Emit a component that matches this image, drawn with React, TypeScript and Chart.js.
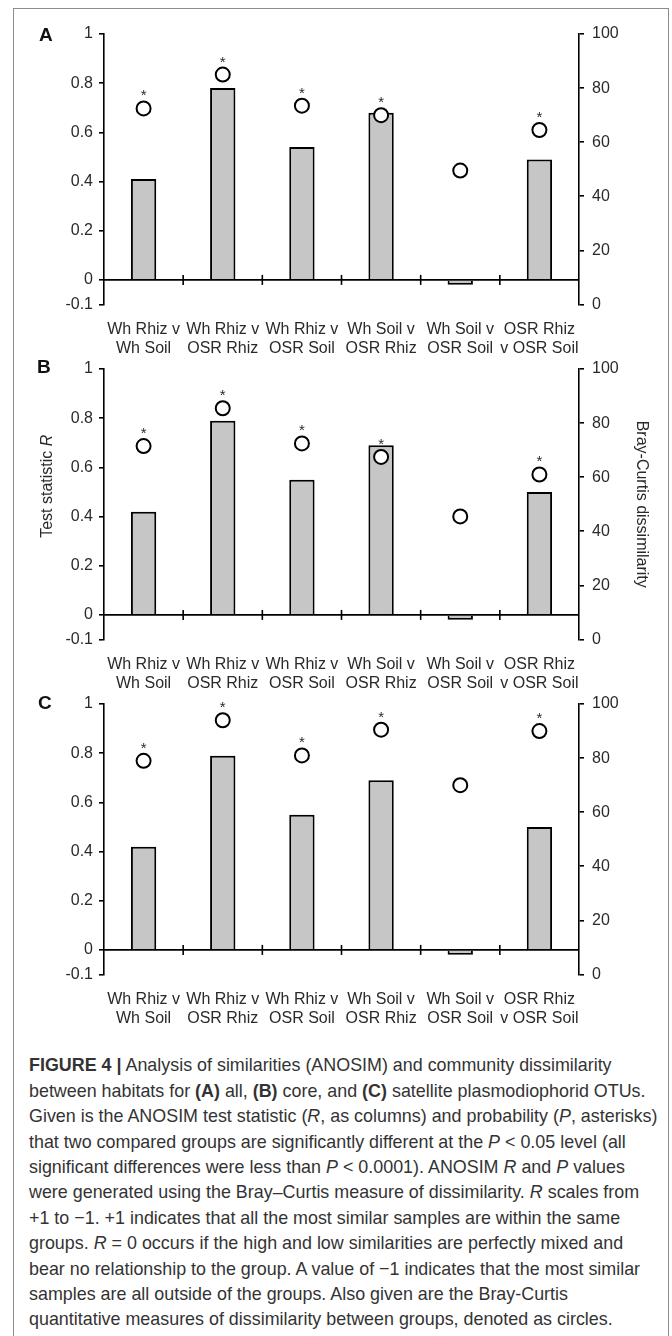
import React, { useEffect, useLayoutEffect, useRef, useState } from 'react';
import { Chart, registerables } from 'chart.js';

Chart.register(...registerables);

// ---------- data ----------
const CATEGORIES: string[][] = [
  ['Wh Rhiz v', 'Wh Soil'],
  ['Wh Rhiz v', 'OSR Rhiz'],
  ['Wh Rhiz v', 'OSR Soil'],
  ['Wh Soil v', 'OSR Rhiz'],
  ['Wh Soil v', 'OSR Soil'],
  ['OSR Rhiz', 'v OSR Soil'],
];
const LEFT_TICKS = [-0.1, 0, 0.2, 0.4, 0.6, 0.8, 1];
const RIGHT_TICKS = [0, 20, 40, 60, 80, 100];

const R_ALL = [0.41, 0.78, 0.54, 0.68, -0.02, 0.49];
const BC_ALL = [72.5, 85, 73.5, 70, 49.5, 64.5];
const SIG_ALL = [true, true, true, true, false, true];

const R_CORE = [0.42, 0.79, 0.55, 0.69, -0.02, 0.5];
const BC_CORE = [71.5, 85.5, 72.5, 67.5, 45.5, 61];
const SIG_CORE = [true, true, true, true, false, true];

const R_SAT = [0.42, 0.79, 0.55, 0.69, -0.02, 0.5];
const BC_SAT = [79, 94, 81, 90.5, 70, 90];
const SIG_SAT = [true, true, true, true, false, true];

const LEFT_TITLE = 'Test statistic ';
const LEFT_TITLE_ITALIC = 'R';
const RIGHT_TITLE = 'Bray-Curtis dissimilarity';

const FONT = "'Liberation Sans', Arial, sans-serif";
const TEXT = '#2a2a2a';

// ---------- plugins ----------
const zeroLinePlugin = {
  id: 'zeroLine',
  afterDatasetsDraw(chart: any) {
    const x = chart.scales.x;
    const y = chart.scales.y;
    const ctx = chart.ctx;
    const y0 = y.getPixelForValue(0);
    ctx.save();
    ctx.strokeStyle = '#000';
    ctx.lineWidth = 1.6;
    ctx.beginPath();
    ctx.moveTo(chart.chartArea.left, y0);
    ctx.lineTo(chart.chartArea.right, y0);
    ctx.stroke();
    const n = chart.data.labels.length;
    for (let i = 1; i < n; i++) {
      const bx = (x.getPixelForValue(i - 1) + x.getPixelForValue(i)) / 2;
      ctx.beginPath();
      ctx.moveTo(bx, y0 - 5);
      ctx.lineTo(bx, y0 + 5);
      ctx.stroke();
    }
    ctx.restore();
  },
};

const asteriskPlugin = {
  id: 'asterisks',
  afterDatasetsDraw(chart: any, _args: any, opts: any) {
    const sig: boolean[] = opts.sig || [];
    const meta = chart.getDatasetMeta(1);
    const ctx = chart.ctx;
    ctx.save();
    ctx.font = `15px ${FONT}`;
    ctx.fillStyle = TEXT;
    ctx.textAlign = 'center';
    ctx.textBaseline = 'alphabetic';
    meta.data.forEach((pt: any, i: number) => {
      if (sig[i]) ctx.fillText('*', pt.x, pt.y - 8);
    });
    ctx.restore();
  },
};

const leftTitlePlugin = {
  id: 'leftTitle',
  afterDraw(chart: any, _args: any, opts: any) {
    if (!opts.display) return;
    const ctx = chart.ctx;
    const ca = chart.chartArea;
    ctx.save();
    ctx.translate(ca.left - 56.5, (ca.top + ca.bottom) / 2 - 18);
    ctx.rotate(-Math.PI / 2);
    const f1 = `16px ${FONT}`;
    const f2 = `italic 16px ${FONT}`;
    ctx.font = f1;
    const w1 = ctx.measureText(LEFT_TITLE).width;
    ctx.font = f2;
    const w2 = ctx.measureText(LEFT_TITLE_ITALIC).width;
    const start = -(w1 + w2) / 2;
    ctx.fillStyle = TEXT;
    ctx.textAlign = 'left';
    ctx.textBaseline = 'middle';
    ctx.font = f1;
    ctx.fillText(LEFT_TITLE, start, 0);
    ctx.font = f2;
    ctx.fillText(LEFT_TITLE_ITALIC, start + w1, 0);
    ctx.restore();
  },
};

// ---------- panel ----------
type PanelProps = { r: number[]; bc: number[]; sig: boolean[]; titles: boolean; top: number };

function Panel({ r, bc, sig, titles, top }: PanelProps) {
  const ref = useRef<HTMLCanvasElement | null>(null);
  useEffect(() => {
    if (!ref.current) return;
    const tickFont = { family: FONT, size: 16 };
    const chart = new Chart(ref.current, {
      type: 'bar',
      data: {
        labels: CATEGORIES as any,
        datasets: [
          {
            type: 'bar',
            data: r,
            yAxisID: 'y',
            backgroundColor: '#c6c6c6',
            borderColor: '#000',
            borderWidth: 2,
            barPercentage: 0.32,
            categoryPercentage: 1,
            order: 2,
          } as any,
          {
            type: 'line',
            data: bc,
            yAxisID: 'y2',
            showLine: false,
            pointRadius: 7,
            pointBorderWidth: 2,
            pointBackgroundColor: '#fff',
            pointBorderColor: '#000',
            order: 1,
          } as any,
        ],
      },
      options: {
        responsive: false,
        animation: false,
        devicePixelRatio: 1,
        layout: { padding: { top: 20, left: 0, right: 17.4, bottom: 0 } },
        plugins: {
          legend: { display: false },
          tooltip: { enabled: false },
          asterisks: { sig },
          leftTitle: { display: titles },
        } as any,
        scales: {
          x: {
            type: 'category',
            offset: true,
            grid: { display: false },
            border: { display: false },
            ticks: {
              font: { family: FONT, size: 16, lineHeight: 1.15 },
              color: TEXT,
              padding: 8,
              maxRotation: 0,
              minRotation: 0,
              autoSkip: false,
            },
            afterFit(s: any) {
              s.height = 50.5;
            },
          },
          y: {
            type: 'linear',
            position: 'left',
            min: -0.1,
            max: 1,
            afterBuildTicks(s: any) {
              s.ticks = LEFT_TICKS.map((v) => ({ value: v }));
            },
            ticks: { font: tickFont, color: TEXT, padding: 6, callback: (v: any) => String(v) },
            grid: { display: true, drawOnChartArea: false, drawTicks: true, tickLength: 5, color: '#000', lineWidth: 1.6 },
            border: { display: true, color: '#000', width: 1.6 },
            afterFit(s: any) {
              s.width = 104;
            },
          },
          y2: {
            type: 'linear',
            position: 'right',
            min: 0,
            max: 100,
            afterBuildTicks(s: any) {
              s.ticks = RIGHT_TICKS.map((v) => ({ value: v }));
            },
            ticks: { font: tickFont, color: TEXT, padding: 8, callback: (v: any) => String(v) },
            grid: { display: true, drawOnChartArea: false, drawTicks: true, tickLength: 5, color: '#000', lineWidth: 1.6 },
            border: { display: true, color: '#000', width: 1.6 },
            title: {
              display: titles,
              text: RIGHT_TITLE,
              font: { family: FONT, size: 16 },
              color: TEXT,
              padding: { top: 4, bottom: 4 },
            },
            afterFit(s: any) {
              s.width = 75.6;
            },
          },
        } as any,
      },
      plugins: [zeroLinePlugin, asteriskPlugin, leftTitlePlugin],
    });
    return () => chart.destroy();
  }, [r, bc, sig, titles]);
  return (
    <canvas
      ref={ref}
      width={672}
      height={341}
      style={{ position: 'absolute', left: 0, top, width: 672, height: 341 }}
    />
  );
}

const letterStyle = (left: number, top: number): React.CSSProperties => ({
  position: 'absolute',
  left,
  top,
  fontFamily: FONT,
  fontWeight: 'bold',
  fontSize: 19,
  lineHeight: '20px',
  color: '#111',
});

const CAPTION_FONT = "'Liberation Sans', Arial, sans-serif";
const CAPTION_LINE3_WIDTH = 628;

export default function App() {
  const line3 = useRef<HTMLSpanElement | null>(null);
  const [sx, setSx] = useState(1);
  useLayoutEffect(() => {
    if (line3.current) {
      const w = line3.current.offsetWidth;
      if (w > 0) setSx(CAPTION_LINE3_WIDTH / w);
    }
  }, []);
  const lines: React.ReactNode[] = [
    <>
      <b>FIGURE 4 |</b> Analysis of similarities (ANOSIM) and community dissimilarity
    </>,
    <>
      between habitats for <b>(A)</b> all, <b>(B)</b> core, and <b>(C)</b> satellite plasmodiophorid OTUs.
    </>,
    <span ref={line3}>
      Given is the ANOSIM test statistic (<i>R</i>, as columns) and probability (<i>P</i>, asterisks)
    </span>,
    <>
      that two compared groups are significantly different at the <i>P</i> &lt; 0.05 level (all
    </>,
    <>
      significant differences were less than <i>P</i> &lt; 0.0001). ANOSIM <i>R</i> and <i>P</i> values
    </>,
    <>
      were generated using the Bray–Curtis measure of dissimilarity. <i>R</i> scales from
    </>,
    <>+1 to −1. +1 indicates that all the most similar samples are within the same</>,
    <>
      groups. <i>R</i> = 0 occurs if the high and low similarities are perfectly mixed and
    </>,
    <>bear no relationship to the group. A value of −1 indicates that the most similar</>,
    <>samples are all outside of the groups. Also given are the Bray-Curtis</>,
    <>quantitative measures of dissimilarity between groups, denoted as circles.</>,
  ];
  return (
    <div style={{ position: 'absolute', left: 0, top: 0, width: 672, height: 1336, overflow: 'hidden', background: '#fff' }}>
      <div
        style={{
          position: 'absolute',
          left: 13,
          top: 8,
          width: 656,
          height: 1360,
          border: '1px solid #8c8c8c',
          boxSizing: 'border-box',
        }}
      />
      <Panel r={R_ALL} bc={BC_ALL} sig={SIG_ALL} titles={false} top={14} />
      <Panel r={R_CORE} bc={BC_CORE} sig={SIG_CORE} titles={true} top={349} />
      <Panel r={R_SAT} bc={BC_SAT} sig={SIG_SAT} titles={false} top={683.5} />
      <div style={letterStyle(39, 25)}>A</div>
      <div style={letterStyle(37, 357)}>B</div>
      <div style={letterStyle(38, 693)}>C</div>
      <div
        style={{
          position: 'absolute',
          left: 29,
          top: 1052.3,
          fontFamily: CAPTION_FONT,
          fontSize: 19,
          lineHeight: '25.4px',
          color: '#333',
          whiteSpace: 'nowrap',
          transformOrigin: '0 0',
          transform: `scaleX(${sx})`,
        }}
      >
        {lines.map((l, i) => (
          <div key={i}>{l}</div>
        ))}
      </div>
    </div>
  );
}
